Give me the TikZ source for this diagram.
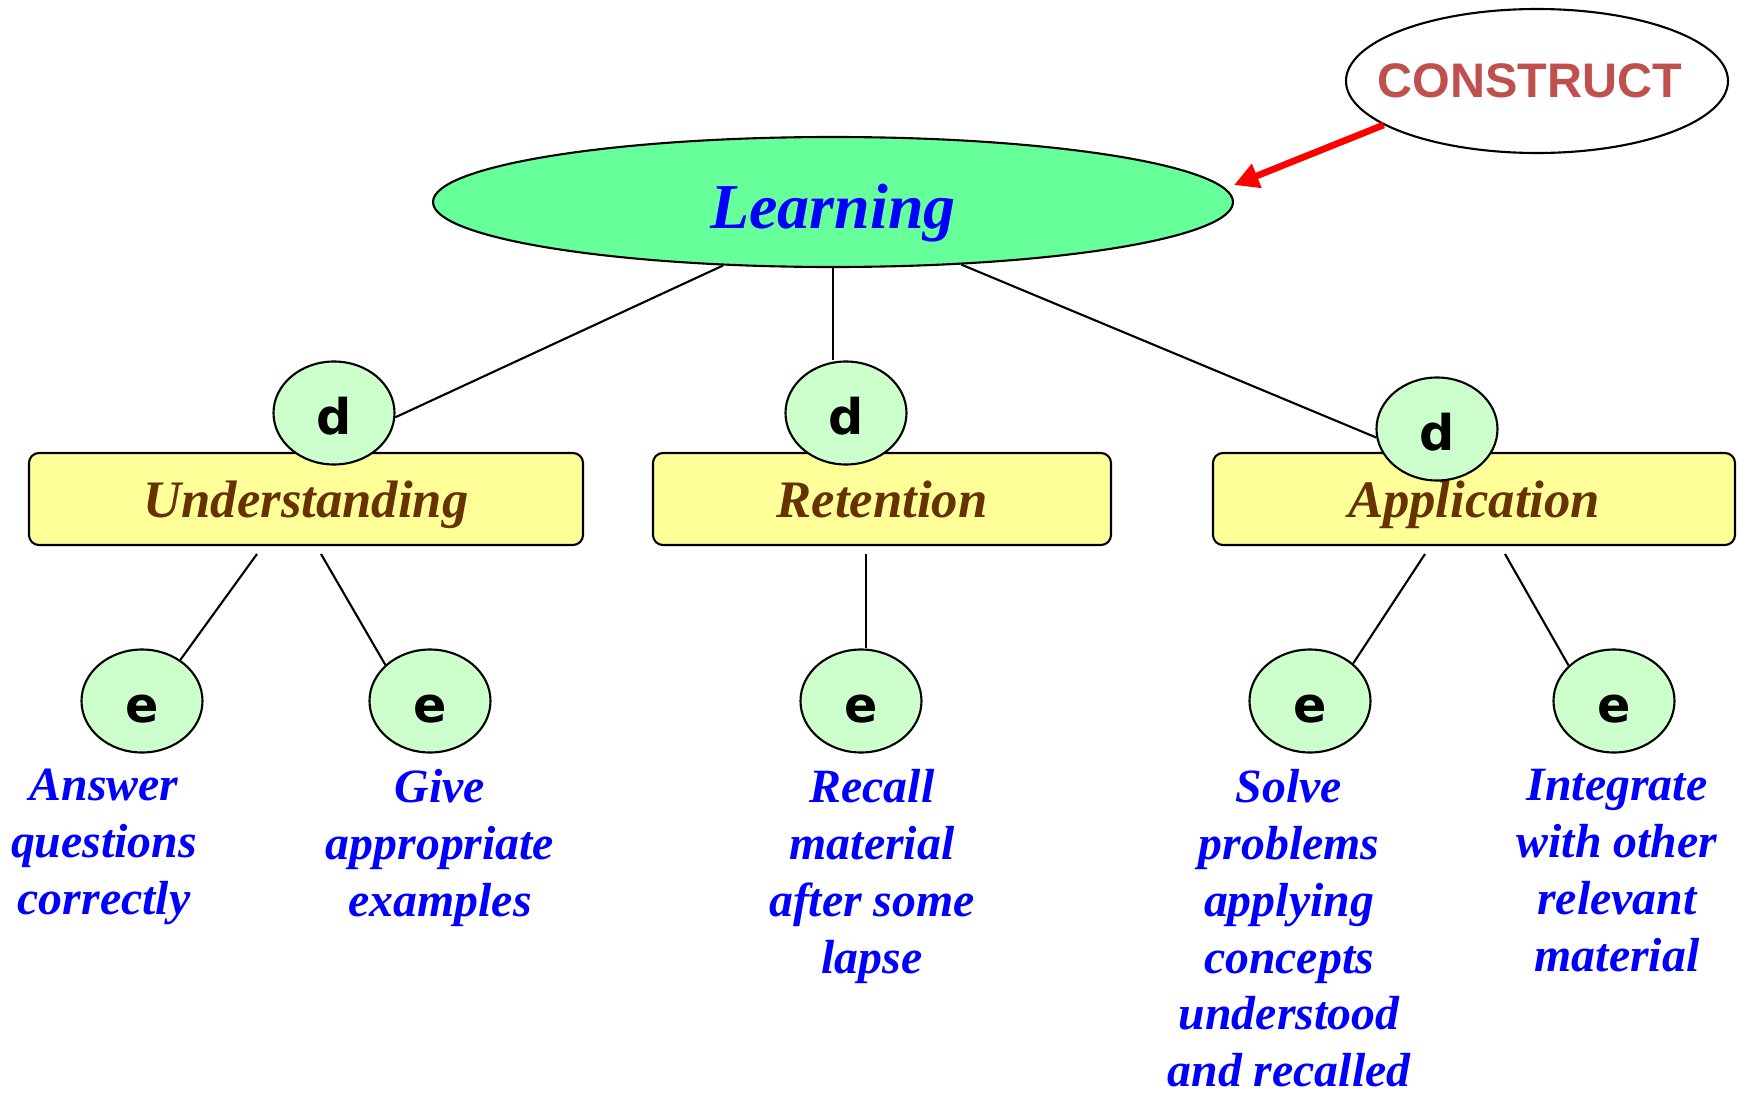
\documentclass[tikz,border=0pt]{standalone}
\usepackage{fontspec}
\usetikzlibrary{shapes.geometric}
\usetikzlibrary{arrows.meta}
\newfontfamily\timesbi{Liberation Serif}
\newfontfamily\verd{DejaVu Sans}
\newfontfamily\arialb{Liberation Sans}
\definecolor{mint}{HTML}{66FF99}
\definecolor{pale}{HTML}{CCFFCC}
\definecolor{butter}{HTML}{FFFF99}
\definecolor{bark}{HTML}{663300}
\definecolor{brick}{HTML}{C0504D}

\begin{document}
\begin{tikzpicture}[x=0.1mm, y=-0.1mm, line width=0.6pt, >={Triangle[length=7pt,width=7pt]},
  goal/.style={ellipse, draw, fill=mint, minimum width=80mm, minimum height=13mm,
    text height=14.8pt, text depth=0pt,
    text=blue, font=\timesbi\bfseries\itshape\fontsize{18.2}{22}\selectfont},
  construct/.style={ellipse, draw, minimum width=38.2mm, minimum height=14.4mm, inner sep=0pt,
    inner xsep=-10pt, text=brick, font=\arialb\bfseries\fontsize{13.8}{16}\selectfont},
  area/.style={draw, fill=butter, rounded corners=1mm, minimum height=9.2mm, text depth=0pt,
    text=bark, font=\timesbi\bfseries\itshape\fontsize{15}{18}\selectfont},
  dim/.style={ellipse, draw, fill=pale, minimum width=12.1mm, minimum height=10.3mm, inner sep=0pt,
    text height=12.2pt, text depth=0pt, font=\verd\bfseries\fontsize{14}{16}\selectfont},
  act/.style={anchor=north, inner sep=0pt, align=center, text=blue,
    font=\timesbi\bfseries\itshape\fontsize{13.6}{16.2}\selectfont}]
\useasboundingbox (0,0) rectangle (1738,1093);

% top concept and the construct pointing at it
\node[goal] (learn) at (833,202) {Learning};
\node[construct] (cons) at (1537,81) {CONSTRUCT\hspace*{4pt}};
\coordinate (tip) at (1234,185);
\draw[->, red, line width=1.9pt] (cons.196) -- (tip);

% the three areas
\node[area, minimum width=55.4mm] (under) at (306,499) {Understanding};
\node[area, minimum width=45.8mm] (ret) at (882,499) {Retention};
\node[area, minimum width=52.2mm] (appl) at (1474,499) {Application};

% d markers sit on top of the boxes
\node[dim] (d1) at (334,413) {d};
\node[dim] (d2) at (846,413) {d};
\node[dim] (d3) at (1437,429) {d};
\draw (learn.210) -- (d1.-4);
\draw (learn.south) -- (learn.south |- d2.north);
\draw (learn.-26) -- (d3.188);

% e markers
\node[dim] (e1) at (142,701) {e};
\node[dim] (e2) at (430,701) {e};
\node[dim] (e3) at (861,701) {e};
\node[dim] (e4) at (1310,701) {e};
\node[dim] (e5) at (1614,701) {e};

\coordinate (u1) at (257,554);
\coordinate (u2) at (321,554);
\coordinate (r1) at (866,554);
\coordinate (a1) at (1425,554);
\coordinate (a2) at (1505,554);
\draw (u1) -- (e1.47);
\draw (u2) -- (e2.141);
\draw (r1) -- (r1 |- e3.north);
\draw (a1) -- (e4.41);
\draw (a2) -- (e5.142);

% outcomes
\node[act] (t1) at (104,768) {Answer\\questions\\correctly};
\node[act] (t2) at (440,768) {Give\\appropriate\\examples};
\node[act] (t3) at (872,768) {Recall\\material\\after some\\lapse};
\node[act] (t4) at (1289,768) {Solve\\problems\\applying\\concepts\\understood\\and recalled};
\node[act] (t5) at (1617,768) {Integrate\\with other\\relevant\\material};
\end{tikzpicture}
\end{document}
